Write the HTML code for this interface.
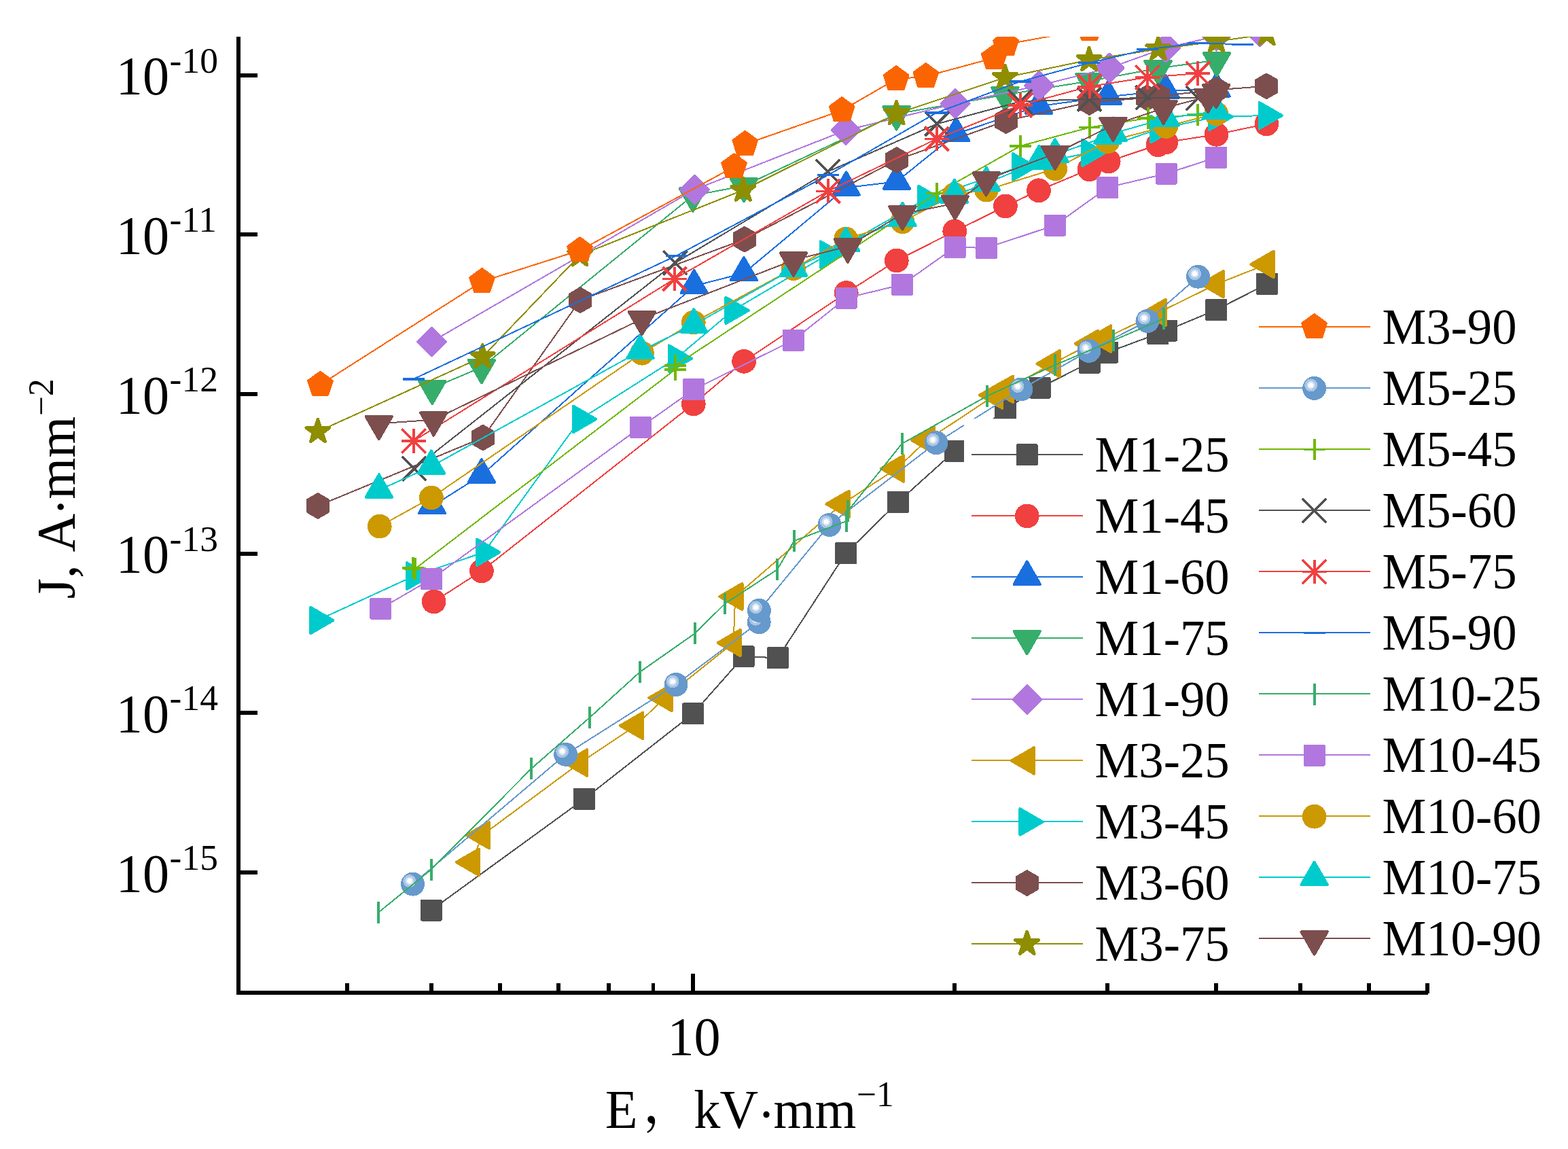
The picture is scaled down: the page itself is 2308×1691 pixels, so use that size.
<!DOCTYPE html>
<html lang="en"><head><meta charset="utf-8"><title>J-E characteristics</title>
<style>html,body{margin:0;padding:0;background:#fff}body{width:2308px;height:1691px;overflow:hidden}svg{display:block}text{font-family:"Liberation Serif","Noto Serif CJK SC",serif;fill:#000}.lg{font-size:74.6px}.tk{font-size:81px}.tt{font-size:80px}.sp2{font-size:52.5px}.sp{font-size:53.5px}</style></head><body>
<svg width="2308" height="1691" viewBox="0 0 2308 1691">
<rect width="2308" height="1691" fill="#fff"/>
<defs><clipPath id="plot"><rect x="350.9" y="54.0" width="1750.0" height="1407.0"/></clipPath></defs>
<g clip-path="url(#plot)" shape-rendering="crispEdges">
<g>
<polyline fill="none" stroke="#515151" stroke-width="2" points="634.8,1339.5 860.1,1175.7 1020.0,1050.4 1094.5,966.3 1144.9,968.2 1245.0,814.3 1322.0,738.8 1405.5,663.6 1480.0,601.9 1530.5,570.5 1603.7,533.7 1630.4,518.5 1704.4,491.1 1716.9,486.6 1790.1,456.0 1865.0,417.9"/>
<rect x="620.80" y="1325.50" width="28.0" height="28.0" fill="#515151" stroke="#515151" stroke-width="4" stroke-linejoin="round"/>
<rect x="846.10" y="1161.70" width="28.0" height="28.0" fill="#515151" stroke="#515151" stroke-width="4" stroke-linejoin="round"/>
<rect x="1006.00" y="1036.40" width="28.0" height="28.0" fill="#515151" stroke="#515151" stroke-width="4" stroke-linejoin="round"/>
<rect x="1080.50" y="952.30" width="28.0" height="28.0" fill="#515151" stroke="#515151" stroke-width="4" stroke-linejoin="round"/>
<rect x="1130.90" y="954.20" width="28.0" height="28.0" fill="#515151" stroke="#515151" stroke-width="4" stroke-linejoin="round"/>
<rect x="1231.00" y="800.30" width="28.0" height="28.0" fill="#515151" stroke="#515151" stroke-width="4" stroke-linejoin="round"/>
<rect x="1308.00" y="724.80" width="28.0" height="28.0" fill="#515151" stroke="#515151" stroke-width="4" stroke-linejoin="round"/>
<rect x="1391.50" y="649.60" width="28.0" height="28.0" fill="#515151" stroke="#515151" stroke-width="4" stroke-linejoin="round"/>
<rect x="1466.00" y="587.90" width="28.0" height="28.0" fill="#515151" stroke="#515151" stroke-width="4" stroke-linejoin="round"/>
<rect x="1516.50" y="556.50" width="28.0" height="28.0" fill="#515151" stroke="#515151" stroke-width="4" stroke-linejoin="round"/>
<rect x="1589.70" y="519.70" width="28.0" height="28.0" fill="#515151" stroke="#515151" stroke-width="4" stroke-linejoin="round"/>
<rect x="1616.40" y="504.50" width="28.0" height="28.0" fill="#515151" stroke="#515151" stroke-width="4" stroke-linejoin="round"/>
<rect x="1690.40" y="477.10" width="28.0" height="28.0" fill="#515151" stroke="#515151" stroke-width="4" stroke-linejoin="round"/>
<rect x="1702.90" y="472.60" width="28.0" height="28.0" fill="#515151" stroke="#515151" stroke-width="4" stroke-linejoin="round"/>
<rect x="1776.10" y="442.00" width="28.0" height="28.0" fill="#515151" stroke="#515151" stroke-width="4" stroke-linejoin="round"/>
<rect x="1851.00" y="403.90" width="28.0" height="28.0" fill="#515151" stroke="#515151" stroke-width="4" stroke-linejoin="round"/>
</g>
<g>
<polyline fill="none" stroke="#F14040" stroke-width="2" points="638.6,885.4 708.9,840.3 1020.8,594.4 1095.1,531.8 1245.7,431.0 1319.8,383.4 1405.3,340.4 1479.9,303.4 1529.0,280.3 1603.5,249.2 1631.7,237.5 1704.5,213.2 1716.4,209.4 1790.5,197.8 1864.4,182.4"/>
<circle cx="638.60" cy="885.40" r="17.9" fill="#F14040"/>
<circle cx="708.90" cy="840.30" r="17.9" fill="#F14040"/>
<circle cx="1020.80" cy="594.40" r="17.9" fill="#F14040"/>
<circle cx="1095.10" cy="531.80" r="17.9" fill="#F14040"/>
<circle cx="1245.70" cy="431.00" r="17.9" fill="#F14040"/>
<circle cx="1319.80" cy="383.40" r="17.9" fill="#F14040"/>
<circle cx="1405.30" cy="340.40" r="17.9" fill="#F14040"/>
<circle cx="1479.90" cy="303.40" r="17.9" fill="#F14040"/>
<circle cx="1529.00" cy="280.30" r="17.9" fill="#F14040"/>
<circle cx="1603.50" cy="249.20" r="17.9" fill="#F14040"/>
<circle cx="1631.70" cy="237.50" r="17.9" fill="#F14040"/>
<circle cx="1704.50" cy="213.20" r="17.9" fill="#F14040"/>
<circle cx="1716.40" cy="209.40" r="17.9" fill="#F14040"/>
<circle cx="1790.50" cy="197.80" r="17.9" fill="#F14040"/>
<circle cx="1864.40" cy="182.40" r="17.9" fill="#F14040"/>
</g>
<g>
<polyline fill="none" stroke="#1A6FDF" stroke-width="2" points="636.0,745.0 708.9,699.2 1021.7,420.8 1094.9,402.0 1245.6,276.2 1319.8,267.3 1407.3,196.9 1529.0,156.2 1631.1,142.2 1715.9,133.7 1790.5,131.2"/>
<polygon points="636.00,722.10 655.23,755.40 616.77,755.40" fill="#1A6FDF" stroke="#1A6FDF" stroke-width="4.0" stroke-linejoin="round"/>
<polygon points="708.90,676.30 728.13,709.60 689.67,709.60" fill="#1A6FDF" stroke="#1A6FDF" stroke-width="4.0" stroke-linejoin="round"/>
<polygon points="1021.70,397.90 1040.93,431.20 1002.47,431.20" fill="#1A6FDF" stroke="#1A6FDF" stroke-width="4.0" stroke-linejoin="round"/>
<polygon points="1094.90,379.10 1114.13,412.40 1075.67,412.40" fill="#1A6FDF" stroke="#1A6FDF" stroke-width="4.0" stroke-linejoin="round"/>
<polygon points="1245.60,253.30 1264.83,286.60 1226.37,286.60" fill="#1A6FDF" stroke="#1A6FDF" stroke-width="4.0" stroke-linejoin="round"/>
<polygon points="1319.80,244.40 1339.03,277.70 1300.57,277.70" fill="#1A6FDF" stroke="#1A6FDF" stroke-width="4.0" stroke-linejoin="round"/>
<polygon points="1407.30,174.00 1426.53,207.30 1388.07,207.30" fill="#1A6FDF" stroke="#1A6FDF" stroke-width="4.0" stroke-linejoin="round"/>
<polygon points="1529.00,133.30 1548.23,166.60 1509.77,166.60" fill="#1A6FDF" stroke="#1A6FDF" stroke-width="4.0" stroke-linejoin="round"/>
<polygon points="1631.10,119.30 1650.33,152.60 1611.87,152.60" fill="#1A6FDF" stroke="#1A6FDF" stroke-width="4.0" stroke-linejoin="round"/>
<polygon points="1715.90,110.80 1735.13,144.10 1696.67,144.10" fill="#1A6FDF" stroke="#1A6FDF" stroke-width="4.0" stroke-linejoin="round"/>
<polygon points="1790.50,108.30 1809.73,141.60 1771.27,141.60" fill="#1A6FDF" stroke="#1A6FDF" stroke-width="4.0" stroke-linejoin="round"/>
</g>
<g>
<polyline fill="none" stroke="#37AD6B" stroke-width="2" points="636.2,571.2 708.9,540.5 1019.8,287.8 1095.0,273.5 1319.6,167.6 1479.4,139.5 1603.4,119.3 1704.5,100.5 1791.0,88.5"/>
<polygon points="636.20,594.10 655.43,560.80 616.97,560.80" fill="#37AD6B" stroke="#37AD6B" stroke-width="4.0" stroke-linejoin="round"/>
<polygon points="708.90,563.40 728.13,530.10 689.67,530.10" fill="#37AD6B" stroke="#37AD6B" stroke-width="4.0" stroke-linejoin="round"/>
<polygon points="1019.80,310.70 1039.03,277.40 1000.57,277.40" fill="#37AD6B" stroke="#37AD6B" stroke-width="4.0" stroke-linejoin="round"/>
<polygon points="1095.00,296.40 1114.23,263.10 1075.77,263.10" fill="#37AD6B" stroke="#37AD6B" stroke-width="4.0" stroke-linejoin="round"/>
<polygon points="1319.60,190.50 1338.83,157.20 1300.37,157.20" fill="#37AD6B" stroke="#37AD6B" stroke-width="4.0" stroke-linejoin="round"/>
<polygon points="1479.40,162.40 1498.63,129.10 1460.17,129.10" fill="#37AD6B" stroke="#37AD6B" stroke-width="4.0" stroke-linejoin="round"/>
<polygon points="1603.40,142.20 1622.63,108.90 1584.17,108.90" fill="#37AD6B" stroke="#37AD6B" stroke-width="4.0" stroke-linejoin="round"/>
<polygon points="1704.50,123.40 1723.73,90.10 1685.27,90.10" fill="#37AD6B" stroke="#37AD6B" stroke-width="4.0" stroke-linejoin="round"/>
<polygon points="1791.00,111.40 1810.23,78.10 1771.77,78.10" fill="#37AD6B" stroke="#37AD6B" stroke-width="4.0" stroke-linejoin="round"/>
</g>
<g>
<polyline fill="none" stroke="#B177DE" stroke-width="2" points="635.4,502.9 1022.4,279.0 1245.1,191.7 1406.2,152.5 1529.4,125.9 1633.1,99.9 1716.2,70.2 1790.5,53.4 1854.7,47.1"/>
<polygon points="635.40,482.65 655.65,502.90 635.40,523.15 615.15,502.90" fill="#B177DE" stroke="#B177DE" stroke-width="4.0" stroke-linejoin="round"/>
<polygon points="1022.40,258.75 1042.65,279.00 1022.40,299.25 1002.15,279.00" fill="#B177DE" stroke="#B177DE" stroke-width="4.0" stroke-linejoin="round"/>
<polygon points="1245.10,171.45 1265.35,191.70 1245.10,211.95 1224.85,191.70" fill="#B177DE" stroke="#B177DE" stroke-width="4.0" stroke-linejoin="round"/>
<polygon points="1406.20,132.25 1426.45,152.50 1406.20,172.75 1385.95,152.50" fill="#B177DE" stroke="#B177DE" stroke-width="4.0" stroke-linejoin="round"/>
<polygon points="1529.40,105.65 1549.65,125.90 1529.40,146.15 1509.15,125.90" fill="#B177DE" stroke="#B177DE" stroke-width="4.0" stroke-linejoin="round"/>
<polygon points="1633.10,79.65 1653.35,99.90 1633.10,120.15 1612.85,99.90" fill="#B177DE" stroke="#B177DE" stroke-width="4.0" stroke-linejoin="round"/>
<polygon points="1716.20,49.95 1736.45,70.20 1716.20,90.45 1695.95,70.20" fill="#B177DE" stroke="#B177DE" stroke-width="4.0" stroke-linejoin="round"/>
<polygon points="1790.50,33.15 1810.75,53.40 1790.50,73.65 1770.25,53.40" fill="#B177DE" stroke="#B177DE" stroke-width="4.0" stroke-linejoin="round"/>
<polygon points="1854.70,26.85 1874.95,47.10 1854.70,67.35 1834.45,47.10" fill="#B177DE" stroke="#B177DE" stroke-width="4.0" stroke-linejoin="round"/>
</g>
<g>
<polyline fill="none" stroke="#CC9900" stroke-width="2" points="694.7,1268.9 709.7,1229.2 853.8,1122.6 935.8,1068.0 978.4,1027.0 1079.6,946.1 1082.2,878.0 1239.4,741.8 1319.9,689.6 1364.6,647.7 1464.9,581.5 1480.7,572.8 1549.5,535.3 1605.6,505.8 1624.7,498.7 1705.4,460.0 1790.6,418.1 1864.4,389.0"/>
<polygon points="671.70,1268.90 705.00,1249.67 705.00,1288.13" fill="#CC9900" stroke="#CC9900" stroke-width="4.0" stroke-linejoin="round"/>
<polygon points="686.70,1229.20 720.00,1209.97 720.00,1248.43" fill="#CC9900" stroke="#CC9900" stroke-width="4.0" stroke-linejoin="round"/>
<polygon points="830.80,1122.60 864.10,1103.37 864.10,1141.83" fill="#CC9900" stroke="#CC9900" stroke-width="4.0" stroke-linejoin="round"/>
<polygon points="912.80,1068.00 946.10,1048.77 946.10,1087.23" fill="#CC9900" stroke="#CC9900" stroke-width="4.0" stroke-linejoin="round"/>
<polygon points="955.40,1027.00 988.70,1007.77 988.70,1046.23" fill="#CC9900" stroke="#CC9900" stroke-width="4.0" stroke-linejoin="round"/>
<polygon points="1056.60,946.10 1089.90,926.87 1089.90,965.33" fill="#CC9900" stroke="#CC9900" stroke-width="4.0" stroke-linejoin="round"/>
<polygon points="1059.20,878.00 1092.50,858.77 1092.50,897.23" fill="#CC9900" stroke="#CC9900" stroke-width="4.0" stroke-linejoin="round"/>
<polygon points="1216.40,741.80 1249.70,722.57 1249.70,761.03" fill="#CC9900" stroke="#CC9900" stroke-width="4.0" stroke-linejoin="round"/>
<polygon points="1296.90,689.60 1330.20,670.37 1330.20,708.83" fill="#CC9900" stroke="#CC9900" stroke-width="4.0" stroke-linejoin="round"/>
<polygon points="1341.60,647.70 1374.90,628.47 1374.90,666.93" fill="#CC9900" stroke="#CC9900" stroke-width="4.0" stroke-linejoin="round"/>
<polygon points="1441.90,581.50 1475.20,562.27 1475.20,600.73" fill="#CC9900" stroke="#CC9900" stroke-width="4.0" stroke-linejoin="round"/>
<polygon points="1457.70,572.80 1491.00,553.57 1491.00,592.03" fill="#CC9900" stroke="#CC9900" stroke-width="4.0" stroke-linejoin="round"/>
<polygon points="1526.50,535.30 1559.80,516.07 1559.80,554.53" fill="#CC9900" stroke="#CC9900" stroke-width="4.0" stroke-linejoin="round"/>
<polygon points="1582.60,505.80 1615.90,486.57 1615.90,525.03" fill="#CC9900" stroke="#CC9900" stroke-width="4.0" stroke-linejoin="round"/>
<polygon points="1601.70,498.70 1635.00,479.47 1635.00,517.93" fill="#CC9900" stroke="#CC9900" stroke-width="4.0" stroke-linejoin="round"/>
<polygon points="1682.40,460.00 1715.70,440.77 1715.70,479.23" fill="#CC9900" stroke="#CC9900" stroke-width="4.0" stroke-linejoin="round"/>
<polygon points="1767.60,418.10 1800.90,398.87 1800.90,437.33" fill="#CC9900" stroke="#CC9900" stroke-width="4.0" stroke-linejoin="round"/>
<polygon points="1841.40,389.00 1874.70,369.77 1874.70,408.23" fill="#CC9900" stroke="#CC9900" stroke-width="4.0" stroke-linejoin="round"/>
</g>
<g>
<polyline fill="none" stroke="#00CBCC" stroke-width="2" points="467.4,913.0 609.4,847.7 712.4,812.8 854.3,616.9 995.0,527.6 1078.7,456.9 1218.2,374.7 1362.4,293.0 1501.3,245.5 1603.4,224.9 1704.5,190.2 1790.6,171.8 1864.0,170.0"/>
<polygon points="490.40,913.00 457.10,893.77 457.10,932.23" fill="#00CBCC" stroke="#00CBCC" stroke-width="4.0" stroke-linejoin="round"/>
<polygon points="632.40,847.70 599.10,828.47 599.10,866.93" fill="#00CBCC" stroke="#00CBCC" stroke-width="4.0" stroke-linejoin="round"/>
<polygon points="735.40,812.80 702.10,793.57 702.10,832.03" fill="#00CBCC" stroke="#00CBCC" stroke-width="4.0" stroke-linejoin="round"/>
<polygon points="877.30,616.90 844.00,597.67 844.00,636.13" fill="#00CBCC" stroke="#00CBCC" stroke-width="4.0" stroke-linejoin="round"/>
<polygon points="1018.00,527.60 984.70,508.37 984.70,546.83" fill="#00CBCC" stroke="#00CBCC" stroke-width="4.0" stroke-linejoin="round"/>
<polygon points="1101.70,456.90 1068.40,437.67 1068.40,476.13" fill="#00CBCC" stroke="#00CBCC" stroke-width="4.0" stroke-linejoin="round"/>
<polygon points="1241.20,374.70 1207.90,355.47 1207.90,393.93" fill="#00CBCC" stroke="#00CBCC" stroke-width="4.0" stroke-linejoin="round"/>
<polygon points="1385.40,293.00 1352.10,273.77 1352.10,312.23" fill="#00CBCC" stroke="#00CBCC" stroke-width="4.0" stroke-linejoin="round"/>
<polygon points="1524.30,245.50 1491.00,226.27 1491.00,264.73" fill="#00CBCC" stroke="#00CBCC" stroke-width="4.0" stroke-linejoin="round"/>
<polygon points="1626.40,224.90 1593.10,205.67 1593.10,244.13" fill="#00CBCC" stroke="#00CBCC" stroke-width="4.0" stroke-linejoin="round"/>
<polygon points="1727.50,190.20 1694.20,170.97 1694.20,209.43" fill="#00CBCC" stroke="#00CBCC" stroke-width="4.0" stroke-linejoin="round"/>
<polygon points="1813.60,171.80 1780.30,152.57 1780.30,191.03" fill="#00CBCC" stroke="#00CBCC" stroke-width="4.0" stroke-linejoin="round"/>
<polygon points="1887.00,170.00 1853.70,150.77 1853.70,189.23" fill="#00CBCC" stroke="#00CBCC" stroke-width="4.0" stroke-linejoin="round"/>
</g>
<g>
<polyline fill="none" stroke="#7D4E4E" stroke-width="2" points="467.9,744.5 710.8,644.1 854.1,441.7 1095.9,352.2 1319.8,235.5 1480.9,177.8 1603.5,150.5 1688.6,143.9 1705.3,141.5 1790.5,132.3 1864.2,126.8"/>
<polygon points="467.90,727.20 482.88,735.85 482.88,753.15 467.90,761.80 452.92,753.15 452.92,735.85" fill="#7D4E4E" stroke="#7D4E4E" stroke-width="4.0" stroke-linejoin="round"/>
<polygon points="710.80,626.80 725.78,635.45 725.78,652.75 710.80,661.40 695.82,652.75 695.82,635.45" fill="#7D4E4E" stroke="#7D4E4E" stroke-width="4.0" stroke-linejoin="round"/>
<polygon points="854.10,424.40 869.08,433.05 869.08,450.35 854.10,459.00 839.12,450.35 839.12,433.05" fill="#7D4E4E" stroke="#7D4E4E" stroke-width="4.0" stroke-linejoin="round"/>
<polygon points="1095.90,334.90 1110.88,343.55 1110.88,360.85 1095.90,369.50 1080.92,360.85 1080.92,343.55" fill="#7D4E4E" stroke="#7D4E4E" stroke-width="4.0" stroke-linejoin="round"/>
<polygon points="1319.80,218.20 1334.78,226.85 1334.78,244.15 1319.80,252.80 1304.82,244.15 1304.82,226.85" fill="#7D4E4E" stroke="#7D4E4E" stroke-width="4.0" stroke-linejoin="round"/>
<polygon points="1480.90,160.50 1495.88,169.15 1495.88,186.45 1480.90,195.10 1465.92,186.45 1465.92,169.15" fill="#7D4E4E" stroke="#7D4E4E" stroke-width="4.0" stroke-linejoin="round"/>
<polygon points="1603.50,133.20 1618.48,141.85 1618.48,159.15 1603.50,167.80 1588.52,159.15 1588.52,141.85" fill="#7D4E4E" stroke="#7D4E4E" stroke-width="4.0" stroke-linejoin="round"/>
<polygon points="1688.60,126.60 1703.58,135.25 1703.58,152.55 1688.60,161.20 1673.62,152.55 1673.62,135.25" fill="#7D4E4E" stroke="#7D4E4E" stroke-width="4.0" stroke-linejoin="round"/>
<polygon points="1705.30,124.20 1720.28,132.85 1720.28,150.15 1705.30,158.80 1690.32,150.15 1690.32,132.85" fill="#7D4E4E" stroke="#7D4E4E" stroke-width="4.0" stroke-linejoin="round"/>
<polygon points="1790.50,115.00 1805.48,123.65 1805.48,140.95 1790.50,149.60 1775.52,140.95 1775.52,123.65" fill="#7D4E4E" stroke="#7D4E4E" stroke-width="4.0" stroke-linejoin="round"/>
<polygon points="1864.20,109.50 1879.18,118.15 1879.18,135.45 1864.20,144.10 1849.22,135.45 1849.22,118.15" fill="#7D4E4E" stroke="#7D4E4E" stroke-width="4.0" stroke-linejoin="round"/>
</g>
<g>
<polyline fill="none" stroke="#8E8E00" stroke-width="2" points="467.9,635.2 710.2,525.3 853.5,375.6 1093.8,279.8 1319.6,167.4 1479.4,114.1 1603.1,88.2 1704.9,72.3 1790.5,61.0 1864.7,50.3"/>
<polygon points="467.90,617.25 471.93,629.65 484.97,629.65 474.42,637.32 478.45,649.72 467.90,642.06 457.35,649.72 461.38,637.32 450.83,629.65 463.87,629.65" fill="#8E8E00" stroke="#8E8E00" stroke-width="4.8" stroke-linejoin="round"/>
<polygon points="710.20,507.35 714.23,519.75 727.27,519.75 716.72,527.42 720.75,539.82 710.20,532.16 699.65,539.82 703.68,527.42 693.13,519.75 706.17,519.75" fill="#8E8E00" stroke="#8E8E00" stroke-width="4.8" stroke-linejoin="round"/>
<polygon points="853.50,357.65 857.53,370.05 870.57,370.05 860.02,377.72 864.05,390.12 853.50,382.46 842.95,390.12 846.98,377.72 836.43,370.05 849.47,370.05" fill="#8E8E00" stroke="#8E8E00" stroke-width="4.8" stroke-linejoin="round"/>
<polygon points="1093.80,261.85 1097.83,274.25 1110.87,274.25 1100.32,281.92 1104.35,294.32 1093.80,286.66 1083.25,294.32 1087.28,281.92 1076.73,274.25 1089.77,274.25" fill="#8E8E00" stroke="#8E8E00" stroke-width="4.8" stroke-linejoin="round"/>
<polygon points="1319.60,149.45 1323.63,161.85 1336.67,161.85 1326.12,169.52 1330.15,181.92 1319.60,174.26 1309.05,181.92 1313.08,169.52 1302.53,161.85 1315.57,161.85" fill="#8E8E00" stroke="#8E8E00" stroke-width="4.8" stroke-linejoin="round"/>
<polygon points="1479.40,96.15 1483.43,108.55 1496.47,108.55 1485.92,116.22 1489.95,128.62 1479.40,120.96 1468.85,128.62 1472.88,116.22 1462.33,108.55 1475.37,108.55" fill="#8E8E00" stroke="#8E8E00" stroke-width="4.8" stroke-linejoin="round"/>
<polygon points="1603.10,70.25 1607.13,82.65 1620.17,82.65 1609.62,90.32 1613.65,102.72 1603.10,95.06 1592.55,102.72 1596.58,90.32 1586.03,82.65 1599.07,82.65" fill="#8E8E00" stroke="#8E8E00" stroke-width="4.8" stroke-linejoin="round"/>
<polygon points="1704.90,54.35 1708.93,66.75 1721.97,66.75 1711.42,74.42 1715.45,86.82 1704.90,79.16 1694.35,86.82 1698.38,74.42 1687.83,66.75 1700.87,66.75" fill="#8E8E00" stroke="#8E8E00" stroke-width="4.8" stroke-linejoin="round"/>
<polygon points="1790.50,43.05 1794.53,55.45 1807.57,55.45 1797.02,63.12 1801.05,75.52 1790.50,67.86 1779.95,75.52 1783.98,63.12 1773.43,55.45 1786.47,55.45" fill="#8E8E00" stroke="#8E8E00" stroke-width="4.8" stroke-linejoin="round"/>
<polygon points="1864.70,32.35 1868.73,44.75 1881.77,44.75 1871.22,52.42 1875.25,64.82 1864.70,57.16 1854.15,64.82 1858.18,52.42 1847.63,44.75 1860.67,44.75" fill="#8E8E00" stroke="#8E8E00" stroke-width="4.8" stroke-linejoin="round"/>
</g>
<g>
<polyline fill="none" stroke="#FB6501" stroke-width="2" points="471.5,566.1 709.5,414.3 853.5,368.5 1080.5,245.5 1096.7,212.2 1239.2,162.5 1319.1,116.4 1362.8,112.4 1463.3,85.2 1480.6,65.2 1603.5,43.0"/>
<polygon points="471.50,547.90 488.81,560.48 482.20,580.82 460.80,580.82 454.19,560.48" fill="#FB6501" stroke="#FB6501" stroke-width="4.0" stroke-linejoin="round"/>
<polygon points="709.50,396.10 726.81,408.68 720.20,429.02 698.80,429.02 692.19,408.68" fill="#FB6501" stroke="#FB6501" stroke-width="4.0" stroke-linejoin="round"/>
<polygon points="853.50,350.30 870.81,362.88 864.20,383.22 842.80,383.22 836.19,362.88" fill="#FB6501" stroke="#FB6501" stroke-width="4.0" stroke-linejoin="round"/>
<polygon points="1080.50,227.30 1097.81,239.88 1091.20,260.22 1069.80,260.22 1063.19,239.88" fill="#FB6501" stroke="#FB6501" stroke-width="4.0" stroke-linejoin="round"/>
<polygon points="1096.70,194.00 1114.01,206.58 1107.40,226.92 1086.00,226.92 1079.39,206.58" fill="#FB6501" stroke="#FB6501" stroke-width="4.0" stroke-linejoin="round"/>
<polygon points="1239.20,144.30 1256.51,156.88 1249.90,177.22 1228.50,177.22 1221.89,156.88" fill="#FB6501" stroke="#FB6501" stroke-width="4.0" stroke-linejoin="round"/>
<polygon points="1319.10,98.20 1336.41,110.78 1329.80,131.12 1308.40,131.12 1301.79,110.78" fill="#FB6501" stroke="#FB6501" stroke-width="4.0" stroke-linejoin="round"/>
<polygon points="1362.80,94.20 1380.11,106.78 1373.50,127.12 1352.10,127.12 1345.49,106.78" fill="#FB6501" stroke="#FB6501" stroke-width="4.0" stroke-linejoin="round"/>
<polygon points="1463.30,67.00 1480.61,79.58 1474.00,99.92 1452.60,99.92 1445.99,79.58" fill="#FB6501" stroke="#FB6501" stroke-width="4.0" stroke-linejoin="round"/>
<polygon points="1480.60,47.00 1497.91,59.58 1491.30,79.92 1469.90,79.92 1463.29,59.58" fill="#FB6501" stroke="#FB6501" stroke-width="4.0" stroke-linejoin="round"/>
<polygon points="1603.50,24.80 1620.81,37.38 1614.20,57.72 1592.80,57.72 1586.19,37.38" fill="#FB6501" stroke="#FB6501" stroke-width="4.0" stroke-linejoin="round"/>
</g>
<g>
<polyline fill="none" stroke="#6699CC" stroke-width="2" points="607.6,1301.1 832.6,1110.3 995.0,1007.5 1117.2,915.7 1117.4,898.4 1221.0,772.4 1378.0,651.7 1502.8,573.0 1602.9,516.4 1689.0,472.5 1763.5,407.2"/>
<circle cx="607.60" cy="1301.10" r="17.5" fill="#6699CC"/><circle cx="602.70" cy="1296.60" r="9.5" fill="#A9C6E4"/><circle cx="602.70" cy="1296.60" r="5.9" fill="#D5E3F2"/><circle cx="602.70" cy="1296.60" r="3.5" fill="#FFFFFF"/>
<circle cx="832.60" cy="1110.30" r="17.5" fill="#6699CC"/><circle cx="827.70" cy="1105.80" r="9.5" fill="#A9C6E4"/><circle cx="827.70" cy="1105.80" r="5.9" fill="#D5E3F2"/><circle cx="827.70" cy="1105.80" r="3.5" fill="#FFFFFF"/>
<circle cx="995.00" cy="1007.50" r="17.5" fill="#6699CC"/><circle cx="990.10" cy="1003.00" r="9.5" fill="#A9C6E4"/><circle cx="990.10" cy="1003.00" r="5.9" fill="#D5E3F2"/><circle cx="990.10" cy="1003.00" r="3.5" fill="#FFFFFF"/>
<circle cx="1117.20" cy="915.70" r="17.5" fill="#6699CC"/><circle cx="1112.30" cy="911.20" r="9.5" fill="#A9C6E4"/><circle cx="1112.30" cy="911.20" r="5.9" fill="#D5E3F2"/><circle cx="1112.30" cy="911.20" r="3.5" fill="#FFFFFF"/>
<circle cx="1117.40" cy="898.40" r="17.5" fill="#6699CC"/><circle cx="1112.50" cy="893.90" r="9.5" fill="#A9C6E4"/><circle cx="1112.50" cy="893.90" r="5.9" fill="#D5E3F2"/><circle cx="1112.50" cy="893.90" r="3.5" fill="#FFFFFF"/>
<circle cx="1221.00" cy="772.40" r="17.5" fill="#6699CC"/><circle cx="1216.10" cy="767.90" r="9.5" fill="#A9C6E4"/><circle cx="1216.10" cy="767.90" r="5.9" fill="#D5E3F2"/><circle cx="1216.10" cy="767.90" r="3.5" fill="#FFFFFF"/>
<circle cx="1378.00" cy="651.70" r="17.5" fill="#6699CC"/><circle cx="1373.10" cy="647.20" r="9.5" fill="#A9C6E4"/><circle cx="1373.10" cy="647.20" r="5.9" fill="#D5E3F2"/><circle cx="1373.10" cy="647.20" r="3.5" fill="#FFFFFF"/>
<circle cx="1502.80" cy="573.00" r="17.5" fill="#6699CC"/><circle cx="1497.90" cy="568.50" r="9.5" fill="#A9C6E4"/><circle cx="1497.90" cy="568.50" r="5.9" fill="#D5E3F2"/><circle cx="1497.90" cy="568.50" r="3.5" fill="#FFFFFF"/>
<circle cx="1602.90" cy="516.40" r="17.5" fill="#6699CC"/><circle cx="1598.00" cy="511.90" r="9.5" fill="#A9C6E4"/><circle cx="1598.00" cy="511.90" r="5.9" fill="#D5E3F2"/><circle cx="1598.00" cy="511.90" r="3.5" fill="#FFFFFF"/>
<circle cx="1689.00" cy="472.50" r="17.5" fill="#6699CC"/><circle cx="1684.10" cy="468.00" r="9.5" fill="#A9C6E4"/><circle cx="1684.10" cy="468.00" r="5.9" fill="#D5E3F2"/><circle cx="1684.10" cy="468.00" r="3.5" fill="#FFFFFF"/>
<circle cx="1763.50" cy="407.20" r="17.5" fill="#6699CC"/><circle cx="1758.60" cy="402.70" r="9.5" fill="#A9C6E4"/><circle cx="1758.60" cy="402.70" r="5.9" fill="#D5E3F2"/><circle cx="1758.60" cy="402.70" r="3.5" fill="#FFFFFF"/>
</g>
<g>
<polyline fill="none" stroke="#6FB802" stroke-width="2" points="608.0,836.1 611.0,837.1 994.0,543.8 994.0,538.0 1378.8,284.5 1502.1,214.8 1603.5,187.6 1689.5,173.8 1763.4,169.0"/>
<rect x="592.02" y="834.40" width="31.90" height="3.4" fill="#6FB802"/><rect x="605.97" y="820.15" width="4" height="31.90" fill="#6FB802"/>
<rect x="595.01" y="835.40" width="31.90" height="3.4" fill="#6FB802"/><rect x="608.96" y="821.15" width="4" height="31.90" fill="#6FB802"/>
<rect x="978.05" y="542.10" width="31.90" height="3.4" fill="#6FB802"/><rect x="992.00" y="527.85" width="4" height="31.90" fill="#6FB802"/>
<rect x="978.05" y="536.30" width="31.90" height="3.4" fill="#6FB802"/><rect x="992.00" y="522.05" width="4" height="31.90" fill="#6FB802"/>
<rect x="1362.85" y="282.80" width="31.90" height="3.4" fill="#6FB802"/><rect x="1376.80" y="268.55" width="4" height="31.90" fill="#6FB802"/>
<rect x="1486.15" y="213.10" width="31.90" height="3.4" fill="#6FB802"/><rect x="1500.10" y="198.85" width="4" height="31.90" fill="#6FB802"/>
<rect x="1587.55" y="185.90" width="31.90" height="3.4" fill="#6FB802"/><rect x="1601.50" y="171.65" width="4" height="31.90" fill="#6FB802"/>
<rect x="1673.55" y="172.10" width="31.90" height="3.4" fill="#6FB802"/><rect x="1687.50" y="157.85" width="4" height="31.90" fill="#6FB802"/>
<rect x="1747.45" y="167.30" width="31.90" height="3.4" fill="#6FB802"/><rect x="1761.40" y="153.05" width="4" height="31.90" fill="#6FB802"/>
</g>
<g>
<polyline fill="none" stroke="#515151" stroke-width="2" points="609.6,689.6 993.9,386.9 1218.6,252.5 1379.3,182.3 1501.6,149.5 1603.5,145.9 1689.2,143.9 1763.4,144.5"/>
<path d="M592.00 672.00L627.20 707.20M592.00 707.20L627.20 672.00" stroke="#515151" stroke-width="4" fill="none"/>
<path d="M976.30 369.30L1011.50 404.50M976.30 404.50L1011.50 369.30" stroke="#515151" stroke-width="4" fill="none"/>
<path d="M1201.00 234.90L1236.20 270.10M1201.00 270.10L1236.20 234.90" stroke="#515151" stroke-width="4" fill="none"/>
<path d="M1361.70 164.70L1396.90 199.90M1361.70 199.90L1396.90 164.70" stroke="#515151" stroke-width="4" fill="none"/>
<path d="M1484.00 131.90L1519.20 167.10M1484.00 167.10L1519.20 131.90" stroke="#515151" stroke-width="4" fill="none"/>
<path d="M1585.90 128.30L1621.10 163.50M1585.90 163.50L1621.10 128.30" stroke="#515151" stroke-width="4" fill="none"/>
<path d="M1671.60 126.30L1706.80 161.50M1671.60 161.50L1706.80 126.30" stroke="#515151" stroke-width="4" fill="none"/>
<path d="M1745.80 126.90L1781.00 162.10M1745.80 162.10L1781.00 126.90" stroke="#515151" stroke-width="4" fill="none"/>
</g>
<g>
<polyline fill="none" stroke="#F14040" stroke-width="2" points="609.0,648.9 992.8,410.5 1218.9,281.2 1378.8,204.4 1501.6,154.8 1603.5,127.2 1689.0,113.9 1763.2,108.1"/>
<path d="M591.40 631.30L626.60 666.50M591.40 666.50L626.60 631.30" stroke="#F14040" stroke-width="4" fill="none"/><rect x="591.05" y="647.20" width="35.90" height="3.4" fill="#F14040"/><rect x="607.00" y="630.95" width="4" height="35.90" fill="#F14040"/>
<path d="M975.20 392.90L1010.40 428.10M975.20 428.10L1010.40 392.90" stroke="#F14040" stroke-width="4" fill="none"/><rect x="974.85" y="408.80" width="35.90" height="3.4" fill="#F14040"/><rect x="990.80" y="392.55" width="4" height="35.90" fill="#F14040"/>
<path d="M1201.30 263.60L1236.50 298.80M1201.30 298.80L1236.50 263.60" stroke="#F14040" stroke-width="4" fill="none"/><rect x="1200.95" y="279.50" width="35.90" height="3.4" fill="#F14040"/><rect x="1216.90" y="263.25" width="4" height="35.90" fill="#F14040"/>
<path d="M1361.20 186.80L1396.40 222.00M1361.20 222.00L1396.40 186.80" stroke="#F14040" stroke-width="4" fill="none"/><rect x="1360.85" y="202.70" width="35.90" height="3.4" fill="#F14040"/><rect x="1376.80" y="186.45" width="4" height="35.90" fill="#F14040"/>
<path d="M1484.00 137.20L1519.20 172.40M1484.00 172.40L1519.20 137.20" stroke="#F14040" stroke-width="4" fill="none"/><rect x="1483.65" y="153.10" width="35.90" height="3.4" fill="#F14040"/><rect x="1499.60" y="136.85" width="4" height="35.90" fill="#F14040"/>
<path d="M1585.90 109.60L1621.10 144.80M1585.90 144.80L1621.10 109.60" stroke="#F14040" stroke-width="4" fill="none"/><rect x="1585.55" y="125.50" width="35.90" height="3.4" fill="#F14040"/><rect x="1601.50" y="109.25" width="4" height="35.90" fill="#F14040"/>
<path d="M1671.40 96.30L1706.60 131.50M1671.40 131.50L1706.60 96.30" stroke="#F14040" stroke-width="4" fill="none"/><rect x="1671.05" y="112.20" width="35.90" height="3.4" fill="#F14040"/><rect x="1687.00" y="95.95" width="4" height="35.90" fill="#F14040"/>
<path d="M1745.60 90.50L1780.80 125.70M1745.60 125.70L1780.80 90.50" stroke="#F14040" stroke-width="4" fill="none"/><rect x="1745.25" y="106.40" width="35.90" height="3.4" fill="#F14040"/><rect x="1761.20" y="90.15" width="4" height="35.90" fill="#F14040"/>
</g>
<g>
<polyline fill="none" stroke="#1A6FDF" stroke-width="2" points="608.8,557.8 995.8,376.2 1218.9,257.6 1378.8,165.8 1501.6,120.0 1603.1,92.6 1689.0,72.6 1763.5,63.3 1828.8,65.3"/>
<rect x="592.85" y="556.10" width="31.90" height="3.4" fill="#1A6FDF"/>
<rect x="979.85" y="374.50" width="31.90" height="3.4" fill="#1A6FDF"/>
<rect x="1202.95" y="255.90" width="31.90" height="3.4" fill="#1A6FDF"/>
<rect x="1362.85" y="164.10" width="31.90" height="3.4" fill="#1A6FDF"/>
<rect x="1485.65" y="118.30" width="31.90" height="3.4" fill="#1A6FDF"/>
<rect x="1587.15" y="90.90" width="31.90" height="3.4" fill="#1A6FDF"/>
<rect x="1673.05" y="70.90" width="31.90" height="3.4" fill="#1A6FDF"/>
<rect x="1747.55" y="61.60" width="31.90" height="3.4" fill="#1A6FDF"/>
<rect x="1812.85" y="63.60" width="31.90" height="3.4" fill="#1A6FDF"/>
</g>
<g>
<polyline fill="none" stroke="#37AD6B" stroke-width="2" points="557.3,1342.7 634.8,1279.6 782.3,1131.0 868.3,1055.7 942.4,988.6 1022.9,932.2 1067.1,888.5 1144.3,838.0 1168.8,796.0 1246.0,767.0 1248.2,751.8 1327.6,653.0 1452.7,583.0 1552.9,537.2 1638.9,501.0 1712.9,469.0"/>
<rect x="555.30" y="1326.75" width="4" height="31.90" fill="#37AD6B"/>
<rect x="632.80" y="1263.65" width="4" height="31.90" fill="#37AD6B"/>
<rect x="780.30" y="1115.05" width="4" height="31.90" fill="#37AD6B"/>
<rect x="866.30" y="1039.75" width="4" height="31.90" fill="#37AD6B"/>
<rect x="940.40" y="972.65" width="4" height="31.90" fill="#37AD6B"/>
<rect x="1020.90" y="916.25" width="4" height="31.90" fill="#37AD6B"/>
<rect x="1065.10" y="872.55" width="4" height="31.90" fill="#37AD6B"/>
<rect x="1142.30" y="822.05" width="4" height="31.90" fill="#37AD6B"/>
<rect x="1166.80" y="780.05" width="4" height="31.90" fill="#37AD6B"/>
<rect x="1244.00" y="751.05" width="4" height="31.90" fill="#37AD6B"/>
<rect x="1246.20" y="735.85" width="4" height="31.90" fill="#37AD6B"/>
<rect x="1325.60" y="637.05" width="4" height="31.90" fill="#37AD6B"/>
<rect x="1450.70" y="567.05" width="4" height="31.90" fill="#37AD6B"/>
<rect x="1550.90" y="521.25" width="4" height="31.90" fill="#37AD6B"/>
<rect x="1636.90" y="485.05" width="4" height="31.90" fill="#37AD6B"/>
<rect x="1710.90" y="453.05" width="4" height="31.90" fill="#37AD6B"/>
</g>
<g>
<polyline fill="none" stroke="#B177DE" stroke-width="2" points="560.3,895.7 635.1,852.1 942.7,628.9 1021.2,573.2 1167.8,500.7 1245.6,438.6 1327.8,418.9 1405.5,364.0 1451.9,364.8 1553.0,331.5 1630.4,275.9 1716.6,255.5 1790.0,231.8"/>
<rect x="546.30" y="881.70" width="28.0" height="28.0" fill="#B177DE" stroke="#B177DE" stroke-width="4" stroke-linejoin="round"/>
<rect x="621.10" y="838.10" width="28.0" height="28.0" fill="#B177DE" stroke="#B177DE" stroke-width="4" stroke-linejoin="round"/>
<rect x="928.70" y="614.90" width="28.0" height="28.0" fill="#B177DE" stroke="#B177DE" stroke-width="4" stroke-linejoin="round"/>
<rect x="1007.20" y="559.20" width="28.0" height="28.0" fill="#B177DE" stroke="#B177DE" stroke-width="4" stroke-linejoin="round"/>
<rect x="1153.80" y="486.70" width="28.0" height="28.0" fill="#B177DE" stroke="#B177DE" stroke-width="4" stroke-linejoin="round"/>
<rect x="1231.60" y="424.60" width="28.0" height="28.0" fill="#B177DE" stroke="#B177DE" stroke-width="4" stroke-linejoin="round"/>
<rect x="1313.80" y="404.90" width="28.0" height="28.0" fill="#B177DE" stroke="#B177DE" stroke-width="4" stroke-linejoin="round"/>
<rect x="1391.50" y="350.00" width="28.0" height="28.0" fill="#B177DE" stroke="#B177DE" stroke-width="4" stroke-linejoin="round"/>
<rect x="1437.90" y="350.80" width="28.0" height="28.0" fill="#B177DE" stroke="#B177DE" stroke-width="4" stroke-linejoin="round"/>
<rect x="1539.00" y="317.50" width="28.0" height="28.0" fill="#B177DE" stroke="#B177DE" stroke-width="4" stroke-linejoin="round"/>
<rect x="1616.40" y="261.90" width="28.0" height="28.0" fill="#B177DE" stroke="#B177DE" stroke-width="4" stroke-linejoin="round"/>
<rect x="1702.60" y="241.50" width="28.0" height="28.0" fill="#B177DE" stroke="#B177DE" stroke-width="4" stroke-linejoin="round"/>
<rect x="1776.00" y="217.80" width="28.0" height="28.0" fill="#B177DE" stroke="#B177DE" stroke-width="4" stroke-linejoin="round"/>
</g>
<g>
<polyline fill="none" stroke="#CC9900" stroke-width="2" points="558.7,774.6 634.9,732.5 944.9,519.7 1020.8,474.6 1168.0,395.2 1245.2,351.7 1328.4,326.2 1405.0,286.2 1452.0,279.6 1553.2,248.3 1630.4,208.3 1716.3,186.0 1790.2,167.3"/>
<circle cx="558.70" cy="774.60" r="17.9" fill="#CC9900"/>
<circle cx="634.90" cy="732.50" r="17.9" fill="#CC9900"/>
<circle cx="944.90" cy="519.70" r="17.9" fill="#CC9900"/>
<circle cx="1020.80" cy="474.60" r="17.9" fill="#CC9900"/>
<circle cx="1168.00" cy="395.20" r="17.9" fill="#CC9900"/>
<circle cx="1245.20" cy="351.70" r="17.9" fill="#CC9900"/>
<circle cx="1328.40" cy="326.20" r="17.9" fill="#CC9900"/>
<circle cx="1405.00" cy="286.20" r="17.9" fill="#CC9900"/>
<circle cx="1452.00" cy="279.60" r="17.9" fill="#CC9900"/>
<circle cx="1553.20" cy="248.30" r="17.9" fill="#CC9900"/>
<circle cx="1630.40" cy="208.30" r="17.9" fill="#CC9900"/>
<circle cx="1716.30" cy="186.00" r="17.9" fill="#CC9900"/>
<circle cx="1790.20" cy="167.30" r="17.9" fill="#CC9900"/>
</g>
<g>
<polyline fill="none" stroke="#00CBCC" stroke-width="2" points="557.9,721.3 634.9,686.4 942.5,516.7 1021.2,478.2 1168.0,395.4 1245.2,358.8 1328.4,321.5 1405.0,287.6 1452.0,269.6 1529.5,237.6 1552.9,227.9 1630.4,200.3 1638.6,196.3 1715.6,174.2 1790.4,163.8"/>
<polygon points="557.90,698.40 577.13,731.70 538.67,731.70" fill="#00CBCC" stroke="#00CBCC" stroke-width="4.0" stroke-linejoin="round"/>
<polygon points="634.90,663.50 654.13,696.80 615.67,696.80" fill="#00CBCC" stroke="#00CBCC" stroke-width="4.0" stroke-linejoin="round"/>
<polygon points="942.50,493.80 961.73,527.10 923.27,527.10" fill="#00CBCC" stroke="#00CBCC" stroke-width="4.0" stroke-linejoin="round"/>
<polygon points="1021.20,455.30 1040.43,488.60 1001.97,488.60" fill="#00CBCC" stroke="#00CBCC" stroke-width="4.0" stroke-linejoin="round"/>
<polygon points="1168.00,372.50 1187.23,405.80 1148.77,405.80" fill="#00CBCC" stroke="#00CBCC" stroke-width="4.0" stroke-linejoin="round"/>
<polygon points="1245.20,335.90 1264.43,369.20 1225.97,369.20" fill="#00CBCC" stroke="#00CBCC" stroke-width="4.0" stroke-linejoin="round"/>
<polygon points="1328.40,298.60 1347.63,331.90 1309.17,331.90" fill="#00CBCC" stroke="#00CBCC" stroke-width="4.0" stroke-linejoin="round"/>
<polygon points="1405.00,264.70 1424.23,298.00 1385.77,298.00" fill="#00CBCC" stroke="#00CBCC" stroke-width="4.0" stroke-linejoin="round"/>
<polygon points="1452.00,246.70 1471.23,280.00 1432.77,280.00" fill="#00CBCC" stroke="#00CBCC" stroke-width="4.0" stroke-linejoin="round"/>
<polygon points="1529.50,214.70 1548.73,248.00 1510.27,248.00" fill="#00CBCC" stroke="#00CBCC" stroke-width="4.0" stroke-linejoin="round"/>
<polygon points="1552.90,205.00 1572.13,238.30 1533.67,238.30" fill="#00CBCC" stroke="#00CBCC" stroke-width="4.0" stroke-linejoin="round"/>
<polygon points="1630.40,177.40 1649.63,210.70 1611.17,210.70" fill="#00CBCC" stroke="#00CBCC" stroke-width="4.0" stroke-linejoin="round"/>
<polygon points="1638.60,173.40 1657.83,206.70 1619.37,206.70" fill="#00CBCC" stroke="#00CBCC" stroke-width="4.0" stroke-linejoin="round"/>
<polygon points="1715.60,151.30 1734.83,184.60 1696.37,184.60" fill="#00CBCC" stroke="#00CBCC" stroke-width="4.0" stroke-linejoin="round"/>
<polygon points="1790.40,140.90 1809.63,174.20 1771.17,174.20" fill="#00CBCC" stroke="#00CBCC" stroke-width="4.0" stroke-linejoin="round"/>
</g>
<g>
<polyline fill="none" stroke="#7D4E4E" stroke-width="2" points="557.7,623.3 638.3,617.8 944.9,469.4 1168.0,382.8 1247.9,362.8 1328.4,314.6 1405.7,299.5 1451.5,264.7 1552.9,226.1 1638.4,184.1 1712.6,159.3 1778.2,142.0 1790.2,135.5"/>
<polygon points="557.70,646.20 576.93,612.90 538.47,612.90" fill="#7D4E4E" stroke="#7D4E4E" stroke-width="4.0" stroke-linejoin="round"/>
<polygon points="638.30,640.70 657.53,607.40 619.07,607.40" fill="#7D4E4E" stroke="#7D4E4E" stroke-width="4.0" stroke-linejoin="round"/>
<polygon points="944.90,492.30 964.13,459.00 925.67,459.00" fill="#7D4E4E" stroke="#7D4E4E" stroke-width="4.0" stroke-linejoin="round"/>
<polygon points="1168.00,405.70 1187.23,372.40 1148.77,372.40" fill="#7D4E4E" stroke="#7D4E4E" stroke-width="4.0" stroke-linejoin="round"/>
<polygon points="1247.90,385.70 1267.13,352.40 1228.67,352.40" fill="#7D4E4E" stroke="#7D4E4E" stroke-width="4.0" stroke-linejoin="round"/>
<polygon points="1328.40,337.50 1347.63,304.20 1309.17,304.20" fill="#7D4E4E" stroke="#7D4E4E" stroke-width="4.0" stroke-linejoin="round"/>
<polygon points="1405.70,322.40 1424.93,289.10 1386.47,289.10" fill="#7D4E4E" stroke="#7D4E4E" stroke-width="4.0" stroke-linejoin="round"/>
<polygon points="1451.50,287.60 1470.73,254.30 1432.27,254.30" fill="#7D4E4E" stroke="#7D4E4E" stroke-width="4.0" stroke-linejoin="round"/>
<polygon points="1552.90,249.00 1572.13,215.70 1533.67,215.70" fill="#7D4E4E" stroke="#7D4E4E" stroke-width="4.0" stroke-linejoin="round"/>
<polygon points="1638.40,207.00 1657.63,173.70 1619.17,173.70" fill="#7D4E4E" stroke="#7D4E4E" stroke-width="4.0" stroke-linejoin="round"/>
<polygon points="1712.60,182.20 1731.83,148.90 1693.37,148.90" fill="#7D4E4E" stroke="#7D4E4E" stroke-width="4.0" stroke-linejoin="round"/>
<polygon points="1778.20,164.90 1797.43,131.60 1758.97,131.60" fill="#7D4E4E" stroke="#7D4E4E" stroke-width="4.0" stroke-linejoin="round"/>
<polygon points="1790.20,158.40 1809.43,125.10 1770.97,125.10" fill="#7D4E4E" stroke="#7D4E4E" stroke-width="4.0" stroke-linejoin="round"/>
</g>
</g>
<rect x="1419" y="616.3" width="420" height="800" fill="#fff"/>
<g fill="#000" shape-rendering="crispEdges">
<rect x="348.00" y="54.00" width="5.86" height="1409.93"/>
<rect x="348.00" y="1458.07" width="1753.80" height="5.86"/>
<rect x="350.93" y="1281.05" width="27.95" height="5.86"/>
<rect x="350.93" y="1046.38" width="27.95" height="5.86"/>
<rect x="350.93" y="811.71" width="27.95" height="5.86"/>
<rect x="350.93" y="577.04" width="27.95" height="5.86"/>
<rect x="350.93" y="342.38" width="27.95" height="5.86"/>
<rect x="350.93" y="107.71" width="27.95" height="5.86"/>
<rect x="508.04" y="1447.10" width="5.86" height="14.60"/>
<rect x="631.99" y="1447.10" width="5.86" height="14.60"/>
<rect x="733.27" y="1447.10" width="5.86" height="14.60"/>
<rect x="818.90" y="1447.10" width="5.86" height="14.60"/>
<rect x="893.08" y="1447.10" width="5.86" height="14.60"/>
<rect x="958.50" y="1447.10" width="5.86" height="14.60"/>
<rect x="1017.03" y="1433.00" width="5.86" height="28.70"/>
<rect x="1402.07" y="1447.10" width="5.86" height="14.60"/>
<rect x="1627.30" y="1447.10" width="5.86" height="14.60"/>
<rect x="1787.11" y="1447.10" width="5.86" height="14.60"/>
<rect x="1911.06" y="1447.10" width="5.86" height="14.60"/>
<rect x="2012.34" y="1447.10" width="5.86" height="14.60"/>
<rect x="2097.97" y="1447.10" width="5.86" height="14.60"/>
</g>
<text class="tk" transform="translate(249,1312.5) scale(0.965,1)" text-anchor="end">10</text>
<text class="sp" transform="translate(249.6,1279.9) scale(1.000,1)">-15</text>
<text class="tk" transform="translate(249,1077.8) scale(0.965,1)" text-anchor="end">10</text>
<text class="sp" transform="translate(249.6,1045.2) scale(1.000,1)">-14</text>
<text class="tk" transform="translate(249,843.1) scale(0.965,1)" text-anchor="end">10</text>
<text class="sp" transform="translate(249.6,810.5) scale(1.000,1)">-13</text>
<text class="tk" transform="translate(249,608.5) scale(0.965,1)" text-anchor="end">10</text>
<text class="sp" transform="translate(249.6,575.9) scale(1.000,1)">-12</text>
<text class="tk" transform="translate(249,373.8) scale(0.965,1)" text-anchor="end">10</text>
<text class="sp" transform="translate(249.6,341.2) scale(1.000,1)">-11</text>
<text class="tk" transform="translate(249,139.1) scale(0.965,1)" text-anchor="end">10</text>
<text class="sp" transform="translate(249.6,106.5) scale(1.000,1)">-10</text>
<text class="tk" transform="translate(1021.5,1553.2) scale(0.965,1)" text-anchor="middle">10</text>
<text class="tt" transform="translate(890.8,1660.3) scale(0.978,1)" y="0"><tspan x="0.0">E</tspan><tspan x="56.7" dy="-9">，</tspan><tspan x="133.4" dy="9">k</tspan><tspan x="172.6">V</tspan><tspan x="229.3" dy="6.2">·</tspan><tspan x="253.4" dy="-6.2">mm</tspan><tspan class="sp2" x="378.5" dy="-32.5">−1</tspan></text>
<text class="tt" transform="translate(110.4,881.5) rotate(-90) scale(0.978,1)" y="0"><tspan x="0.0">J,</tspan><tspan x="70.6">A</tspan><tspan x="125.3" dy="6">·</tspan><tspan x="150.1" dy="-6">mm</tspan><tspan class="sp2" x="275.6" dy="-32.5">−2</tspan></text>
<g shape-rendering="crispEdges"><rect x="1430.1" y="667.5" width="164" height="2.2" fill="#515151"/><rect x="1497.70" y="655.40" width="28.0" height="28.0" fill="#515151" stroke="#515151" stroke-width="4" stroke-linejoin="round"/></g>
<text class="lg" transform="translate(1611.5,693.8) scale(0.976,1)">M1-25</text>
<g shape-rendering="crispEdges"><rect x="1430.1" y="757.5" width="164" height="2.2" fill="#F14040"/><circle cx="1511.70" cy="759.43" r="17.9" fill="#F14040"/></g>
<text class="lg" transform="translate(1611.5,783.8) scale(0.976,1)">M1-45</text>
<g shape-rendering="crispEdges"><rect x="1430.1" y="847.6" width="164" height="2.2" fill="#1A6FDF"/><polygon points="1511.70,826.56 1530.93,859.86 1492.47,859.86" fill="#1A6FDF" stroke="#1A6FDF" stroke-width="4.0" stroke-linejoin="round"/></g>
<text class="lg" transform="translate(1611.5,873.9) scale(0.976,1)">M1-60</text>
<g shape-rendering="crispEdges"><rect x="1430.1" y="937.6" width="164" height="2.2" fill="#37AD6B"/><polygon points="1511.70,962.39 1530.93,929.09 1492.47,929.09" fill="#37AD6B" stroke="#37AD6B" stroke-width="4.0" stroke-linejoin="round"/></g>
<text class="lg" transform="translate(1611.5,963.9) scale(0.976,1)">M1-75</text>
<g shape-rendering="crispEdges"><rect x="1430.1" y="1027.6" width="164" height="2.2" fill="#B177DE"/><polygon points="1511.70,1009.27 1531.95,1029.52 1511.70,1049.77 1491.45,1029.52" fill="#B177DE" stroke="#B177DE" stroke-width="4.0" stroke-linejoin="round"/></g>
<text class="lg" transform="translate(1611.5,1053.9) scale(0.976,1)">M1-90</text>
<g shape-rendering="crispEdges"><rect x="1430.1" y="1117.7" width="164" height="2.2" fill="#CC9900"/><polygon points="1488.70,1119.55 1522.00,1100.32 1522.00,1138.78" fill="#CC9900" stroke="#CC9900" stroke-width="4.0" stroke-linejoin="round"/></g>
<text class="lg" transform="translate(1611.5,1144.0) scale(0.976,1)">M3-25</text>
<g shape-rendering="crispEdges"><rect x="1430.1" y="1207.7" width="164" height="2.2" fill="#00CBCC"/><polygon points="1534.70,1209.58 1501.40,1190.35 1501.40,1228.81" fill="#00CBCC" stroke="#00CBCC" stroke-width="4.0" stroke-linejoin="round"/></g>
<text class="lg" transform="translate(1611.5,1234.0) scale(0.976,1)">M3-45</text>
<g shape-rendering="crispEdges"><rect x="1430.1" y="1297.7" width="164" height="2.2" fill="#7D4E4E"/><polygon points="1511.70,1282.31 1526.68,1290.96 1526.68,1308.26 1511.70,1316.91 1496.72,1308.26 1496.72,1290.96" fill="#7D4E4E" stroke="#7D4E4E" stroke-width="4.0" stroke-linejoin="round"/></g>
<text class="lg" transform="translate(1611.5,1324.0) scale(0.976,1)">M3-60</text>
<g shape-rendering="crispEdges"><rect x="1430.1" y="1387.7" width="164" height="2.2" fill="#8E8E00"/><polygon points="1511.70,1371.09 1515.73,1383.49 1528.77,1383.49 1518.22,1391.16 1522.25,1403.56 1511.70,1395.90 1501.15,1403.56 1505.18,1391.16 1494.63,1383.49 1507.67,1383.49" fill="#8E8E00" stroke="#8E8E00" stroke-width="4.8" stroke-linejoin="round"/></g>
<text class="lg" transform="translate(1611.5,1414.0) scale(0.976,1)">M3-75</text>
<g shape-rendering="crispEdges"><rect x="1853.0" y="479.5" width="164" height="2.2" fill="#FB6501"/><polygon points="1934.60,463.20 1951.91,475.78 1945.30,496.12 1923.90,496.12 1917.29,475.78" fill="#FB6501" stroke="#FB6501" stroke-width="4.0" stroke-linejoin="round"/></g>
<text class="lg" transform="translate(2034.4,505.8) scale(0.976,1)">M3-90</text>
<g shape-rendering="crispEdges"><rect x="1853.0" y="569.5" width="164" height="2.2" fill="#6699CC"/><circle cx="1934.60" cy="571.43" r="17.5" fill="#6699CC"/><circle cx="1929.70" cy="566.93" r="9.5" fill="#A9C6E4"/><circle cx="1929.70" cy="566.93" r="5.9" fill="#D5E3F2"/><circle cx="1929.70" cy="566.93" r="3.5" fill="#FFFFFF"/></g>
<text class="lg" transform="translate(2034.4,595.8) scale(0.976,1)">M5-25</text>
<g shape-rendering="crispEdges"><rect x="1853.0" y="659.6" width="164" height="2.2" fill="#6FB802"/><rect x="1918.65" y="659.76" width="31.90" height="3.4" fill="#6FB802"/><rect x="1932.60" y="645.51" width="4" height="31.90" fill="#6FB802"/></g>
<text class="lg" transform="translate(2034.4,685.9) scale(0.976,1)">M5-45</text>
<g shape-rendering="crispEdges"><rect x="1853.0" y="749.6" width="164" height="2.2" fill="#515151"/><path d="M1917.00 733.89L1952.20 769.09M1917.00 769.09L1952.20 733.89" stroke="#515151" stroke-width="4" fill="none"/></g>
<text class="lg" transform="translate(2034.4,775.9) scale(0.976,1)">M5-60</text>
<g shape-rendering="crispEdges"><rect x="1853.0" y="839.6" width="164" height="2.2" fill="#F14040"/><path d="M1917.00 823.92L1952.20 859.12M1917.00 859.12L1952.20 823.92" stroke="#F14040" stroke-width="4" fill="none"/><rect x="1916.65" y="839.82" width="35.90" height="3.4" fill="#F14040"/><rect x="1932.60" y="823.57" width="4" height="35.90" fill="#F14040"/></g>
<text class="lg" transform="translate(2034.4,865.9) scale(0.976,1)">M5-75</text>
<g shape-rendering="crispEdges"><rect x="1853.0" y="929.6" width="164" height="2.2" fill="#1A6FDF"/><rect x="1918.65" y="929.85" width="31.90" height="3.4" fill="#1A6FDF"/></g>
<text class="lg" transform="translate(2034.4,956.0) scale(0.976,1)">M5-90</text>
<g shape-rendering="crispEdges"><rect x="1853.0" y="1019.7" width="164" height="2.2" fill="#37AD6B"/><rect x="1932.60" y="1005.63" width="4" height="31.90" fill="#37AD6B"/></g>
<text class="lg" transform="translate(2034.4,1046.0) scale(0.976,1)">M10-25</text>
<g shape-rendering="crispEdges"><rect x="1853.0" y="1109.7" width="164" height="2.2" fill="#B177DE"/><rect x="1920.60" y="1097.61" width="28.0" height="28.0" fill="#B177DE" stroke="#B177DE" stroke-width="4" stroke-linejoin="round"/></g>
<text class="lg" transform="translate(2034.4,1136.0) scale(0.976,1)">M10-45</text>
<g shape-rendering="crispEdges"><rect x="1853.0" y="1199.7" width="164" height="2.2" fill="#CC9900"/><circle cx="1934.60" cy="1201.64" r="17.9" fill="#CC9900"/></g>
<text class="lg" transform="translate(2034.4,1226.0) scale(0.976,1)">M10-60</text>
<g shape-rendering="crispEdges"><rect x="1853.0" y="1289.8" width="164" height="2.2" fill="#00CBCC"/><polygon points="1934.60,1268.77 1953.83,1302.07 1915.37,1302.07" fill="#00CBCC" stroke="#00CBCC" stroke-width="4.0" stroke-linejoin="round"/></g>
<text class="lg" transform="translate(2034.4,1316.1) scale(0.976,1)">M10-75</text>
<g shape-rendering="crispEdges"><rect x="1853.0" y="1379.8" width="164" height="2.2" fill="#7D4E4E"/><polygon points="1934.60,1404.60 1953.83,1371.30 1915.37,1371.30" fill="#7D4E4E" stroke="#7D4E4E" stroke-width="4.0" stroke-linejoin="round"/></g>
<text class="lg" transform="translate(2034.4,1406.1) scale(0.976,1)">M10-90</text>
</svg></body></html>
